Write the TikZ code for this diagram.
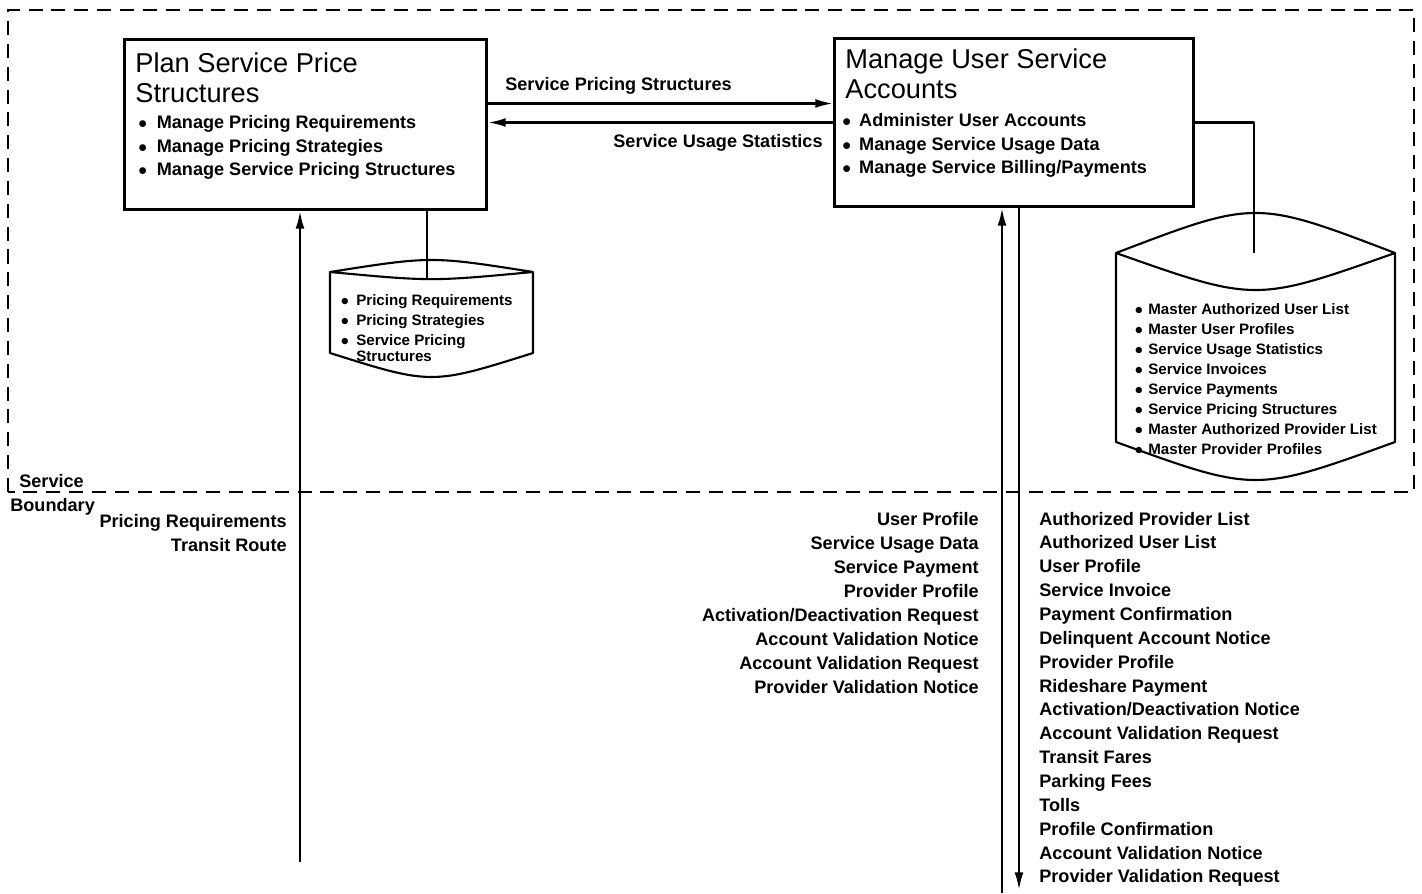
\documentclass[tikz,border=0pt]{standalone}
\usepackage{fontspec}
\setmainfont{Liberation Sans}
\usetikzlibrary{arrows.meta}
\newcommand{\bul}[1][10.5pt]{\makebox[#1][l]{$\bullet$}}

\begin{document}
\begin{tikzpicture}[font=\bfseries\fontsize{10.3}{13.6}\selectfont, >={Latex[length=10pt,width=5pt]},
	proc/.style={draw, line width=1.7pt, inner sep=0pt, anchor=north west},
	ttl/.style={font=\mdseries\fontsize{15.5}{17.4}\selectfont, align=left, anchor=base west, inner sep=0pt},
	lst/.style={align=left, anchor=base west, inner sep=0pt},
	store/.style={font=\bfseries\fontsize{8.6}{11.3}\selectfont, align=left, anchor=base west, inner sep=0pt},
	drum/.style={line width=1.2pt, line join=round},
	flow/.style={line width=1.3pt},
	lbl/.style={inner sep=0pt}]
	\useasboundingbox (0,0) rectangle (28.44,17.86);
	% service boundary
	\draw[line width=1.1pt, dash pattern=on 8pt off 5pt] (0.16,8.02) rectangle (28.28,17.66);
	\node[lbl, anchor=base west] (svc) at (0.38,8.12) {Service};
	\node[lbl, anchor=base west] (bnd) at (0.2,7.64) {Boundary};
	% processes (multi-line texts sit on their last baseline)
	\node[proc, minimum width=7.24cm, minimum height=3.4cm] (plan) at (2.46,17.1) {};
	\node[ttl] (plantitle) at (2.70,15.80) {Plan Service Price\\Structures};
	\node[lst] (planlist) at (2.76,14.34) {\bul Manage Pricing Requirements\\ \bul Manage Pricing Strategies\\ \bul Manage Service Pricing Structures};
	\node[proc, minimum width=7.18cm, minimum height=3.36cm] (acct) at (16.66,17.12) {};
	\node[ttl] (accttitle) at (16.9,15.88) {Manage User Service\\Accounts};
	\node[lst] (acctlist) at (16.84,14.38) {\bul[9.6pt]Administer User Accounts\\ \bul[9.6pt]Manage Service Usage Data\\ \bul[9.6pt]Manage Service Billing/Payments};
	% flows between the processes
	\draw[flow, ->] ([yshift=0.42cm]plan.east) -- ([yshift=0.42cm]plan.east -| acct.west);
	\node[lbl, anchor=base west] (spslbl) at (10.1,16.04) {Service Pricing Structures};
	\draw[flow, ->] (acct.west) -- (acct.west -| plan.east);
	\node[lbl, anchor=base east] (suslbl) at (16.46,14.9) {Service Usage Statistics};
	% pricing data store
	\draw[drum] (6.6,12.42) .. controls (8.63,12.74) .. (10.66,12.42) .. controls (8.63,12.23) .. (6.6,12.42) -- (6.6,10.8) .. controls (8.63,10.16) .. (10.66,10.8) -- (10.66,12.42);
	\coordinate (pricetop) at (8.54,12.28);
	\draw[drum] (pricetop |- plan.south) -- (pricetop);
	\node[store] (pricedata) at (6.81,10.62) {\bul[8.8pt]Pricing Requirements\\ \bul[8.8pt]Pricing Strategies\\ \bul[8.8pt]Service Pricing\\[-1.7pt] \hspace*{8.8pt}Structures};
	% account data store
	\draw[drum] (22.32,12.8) .. controls (25.11,13.867) .. (27.9,12.8) .. controls (25.11,11.813) .. (22.32,12.8) -- (22.32,9.02) .. controls (25.11,8.007) .. (27.9,9.02) -- (27.9,12.8);
	\coordinate (accttop) at (25.08,12.8);
	\draw[drum] (acct.east) -| (accttop);
	\node[store] (acctdata) at (22.69,8.78) {\bul[7.7pt]Master Authorized User List\\ \bul[7.7pt]Master User Profiles\\ \bul[7.7pt]Service Usage Statistics\\ \bul[7.7pt]Service Invoices\\ \bul[7.7pt]Service Payments\\ \bul[7.7pt]Service Pricing Structures\\ \bul[7.7pt]Master Authorized Provider List\\ \bul[7.7pt]Master Provider Profiles};
	% flows across the boundary
	\coordinate (pricein) at (6,0.62);
	\draw[flow, ->] (pricein) -- (pricein |- plan.south);
	\node[lbl, anchor=base east] (pricelbl1) at (5.74,7.32) {Pricing Requirements};
	\node[lbl, anchor=base east] (pricelbl2) at (5.74,6.84) {Transit Route};
	\coordinate (acctin) at (20.04,0);
	\coordinate (acctout) at (20.38,0.06);
	\draw[flow, ->] (acctin) -- (acctin |- acct.south);
	\draw[flow, ->] (acctout |- acct.south) -- (acctout);
	\foreach \t [count=\i from 0] in {User Profile, Service Usage Data, Service Payment, Provider Profile, Activation/Deactivation Request, Account Validation Notice, Account Validation Request, Provider Validation Notice}
		\node[lbl, anchor=base east] (inlbl\i) at (19.58,7.36-0.48*\i) {\t};
	\foreach \t [count=\i from 0] in {Authorized Provider List, Authorized User List, User Profile, Service Invoice, Payment Confirmation, Delinquent Account Notice, Provider Profile, Rideshare Payment, Activation/Deactivation Notice, Account Validation Request, Transit Fares, Parking Fees, Tolls, Profile Confirmation, Account Validation Notice, Provider Validation Request}
		\node[lbl, anchor=base west] (outlbl\i) at (20.78,7.36-0.4773*\i) {\t};
\end{tikzpicture}
\end{document}
